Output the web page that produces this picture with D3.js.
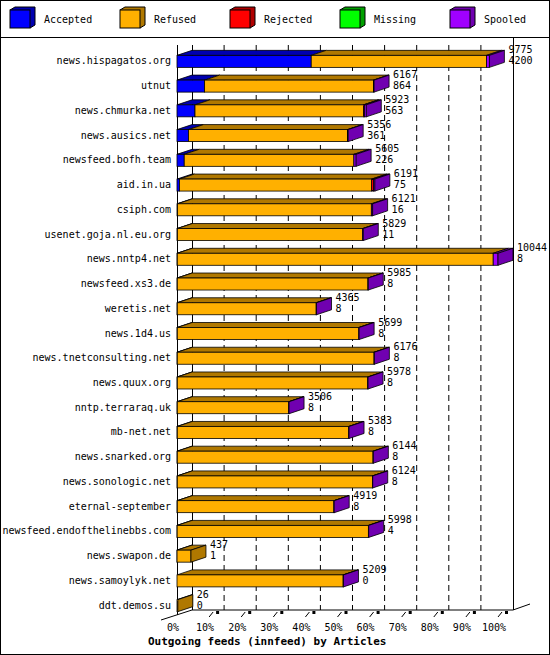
<!DOCTYPE html>
<html><head><meta charset="utf-8">
<script src="https://cdn.jsdelivr.net/npm/d3@7"></script>
<style>body{margin:0;background:#fff}text{font-family:"DejaVu Sans Mono",monospace;font-size:10px}</style>
</head><body><svg id="c" width="550" height="655"></svg>
<script>
const hosts = ["news.hispagatos.org","utnut","news.chmurka.net","news.ausics.net","newsfeed.bofh.team","aid.in.ua","csiph.com","usenet.goja.nl.eu.org","news.nntp4.net","newsfeed.xs3.de","weretis.net","news.1d4.us","news.tnetconsulting.net","news.quux.org","nntp.terraraq.uk","mb-net.net","news.snarked.org","news.sonologic.net","eternal-september","newsfeed.endofthelinebbs.com","news.swapon.de","news.samoylyk.net","ddt.demos.su"];
const totals = [9775,6167,5923,5356,5605,6191,6121,5829,10044,5985,4365,5699,6176,5978,3506,5383,6144,6124,4919,5998,437,5209,26];
const accepted = [4200,864,563,361,226,75,16,11,8,8,8,8,8,8,8,8,8,8,8,4,1,0,0];
const rejected = [0,0,30,0,0,60,0,0,0,0,0,0,0,0,0,0,0,0,0,0,0,0,0];
const missing = [0,0,0,0,0,0,0,0,0,0,0,0,0,0,0,0,0,0,0,0,0,0,0];
const spooled = [90,20,60,20,70,40,40,20,150,10,10,10,10,10,10,10,10,10,10,10,0,10,0];
const ticks = [0,10,20,30,40,50,60,70,80,90,100];
const series = [
  {name:"Accepted", front:"#0000ff", dark:"#0000b0"},
  {name:"Refused", front:"#ffb000", dark:"#b07800"},
  {name:"Rejected", front:"#ff0000", dark:"#b00000"},
  {name:"Missing", front:"#00ff00", dark:"#00a000"},
  {name:"Spooled", front:"#a000ff", dark:"#7000b0"}
];
const svg = d3.select("#c");
const dx = 15, dy = 5, bh = 12;
svg.append("rect").attr("x",0.5).attr("y",0.5).attr("width",549).attr("height",654).attr("fill","none").attr("stroke","#000");
svg.append("line").attr("x1",0).attr("x2",550).attr("y1",37.5).attr("y2",37.5).attr("stroke","#000");

// legend
series.forEach((s,i) => {
  const g = svg.append("g").attr("transform",`translate(${10+i*110},10)`);
  g.append("path").attr("d","M0,0 l5,-3 h20 v18 l-5,3 z").attr("fill",s.dark).attr("stroke","#000");
  g.append("rect").attr("width",20).attr("height",18).attr("fill",s.front).attr("stroke","#000");
  g.append("text").attr("x",34).attr("y",13).text(s.name);
});

const max = d3.max(totals);
const x = d3.scaleLinear().domain([0,max]).range([177,498]);
const px = d3.scaleLinear().domain([0,100]).range([177,498]);
const y = d3.scaleBand().domain(hosts).range([46,615]).paddingInner(0.5).paddingOuter(0.25);

// back grid
ticks.slice(1,10).forEach(t => {
  svg.append("line").attr("x1",px(t)+dx).attr("x2",px(t)+dx).attr("y1",45).attr("y2",610)
    .attr("stroke","#000").attr("stroke-dasharray","6,4");
});
svg.append("line").attr("x1",177.5).attr("x2",177.5).attr("y1",45).attr("y2",615).attr("stroke","#000");
svg.append("line").attr("x1",192.5).attr("x2",192.5).attr("y1",45).attr("y2",610).attr("stroke","#000");
svg.append("line").attr("x1",513.5).attr("x2",513.5).attr("y1",38).attr("y2",610).attr("stroke","#000");
svg.append("polyline").attr("points","161,620 192,610 513,610 530,604").attr("fill","none").attr("stroke","#000");
ticks.slice(1).forEach(t => {
  const tx = px(t);
  svg.append("line").attr("x1",tx).attr("x2",tx+4).attr("y1",617).attr("y2",612).attr("stroke","#000");
  svg.append("rect").attr("x",tx+7).attr("y",611).attr("width",3).attr("height",3).attr("fill","#000");
});
ticks.forEach(t => {
  svg.append("text").attr("x",px(t)-4).attr("y",631).attr("text-anchor","middle").text(t+"%");
});
svg.append("text").attr("x",148).attr("y",645).attr("font-weight","bold").style("font-size","11px").text("Outgoing feeds (innfeed) by Articles");

hosts.forEach((h,i) => {
  const refused = totals[i]-accepted[i]-rejected[i]-missing[i]-spooled[i];
  const vals = [accepted[i],refused,rejected[i],missing[i],spooled[i]];
  const y0 = y(h)+y.bandwidth()/2-bh/2+3;
  let acc = 0, last = 1;
  const segs = [];
  vals.forEach((v,k) => { if (v>0) { segs.push({k, a:acc, b:acc+v}); last = k; } acc += v; });
  const g = svg.append("g");
  segs.forEach(s => {
    const x1 = x(s.a), x2 = x(s.b), c = series[s.k];
    g.append("path").attr("d",`M${x1},${y0} l${dx},${-dy} H${x2+dx} l${-dx},${dy} Z`)
      .attr("fill",c.dark).attr("stroke","#000").attr("stroke-width",0.8);
    g.append("rect").attr("x",x1).attr("y",y0).attr("width",x2-x1).attr("height",bh)
      .attr("fill",c.front).attr("stroke","#000").attr("stroke-width",0.8);
  });
  const xe = x(totals[i]);
  g.append("path").attr("d",`M${xe},${y0} l${dx},${-dy} v${bh} l${-dx},${dy} Z`)
    .attr("fill",series[last].dark).attr("stroke","#000").attr("stroke-width",0.8);
  g.append("text").attr("x",xe+dx+4).attr("y",y0-2).text(totals[i]);
  g.append("text").attr("x",xe+dx+4).attr("y",y0+9).text(accepted[i]);
  g.append("text").attr("x",171).attr("y",y0+9).attr("text-anchor","end").text(h);
});
</script></body></html>
